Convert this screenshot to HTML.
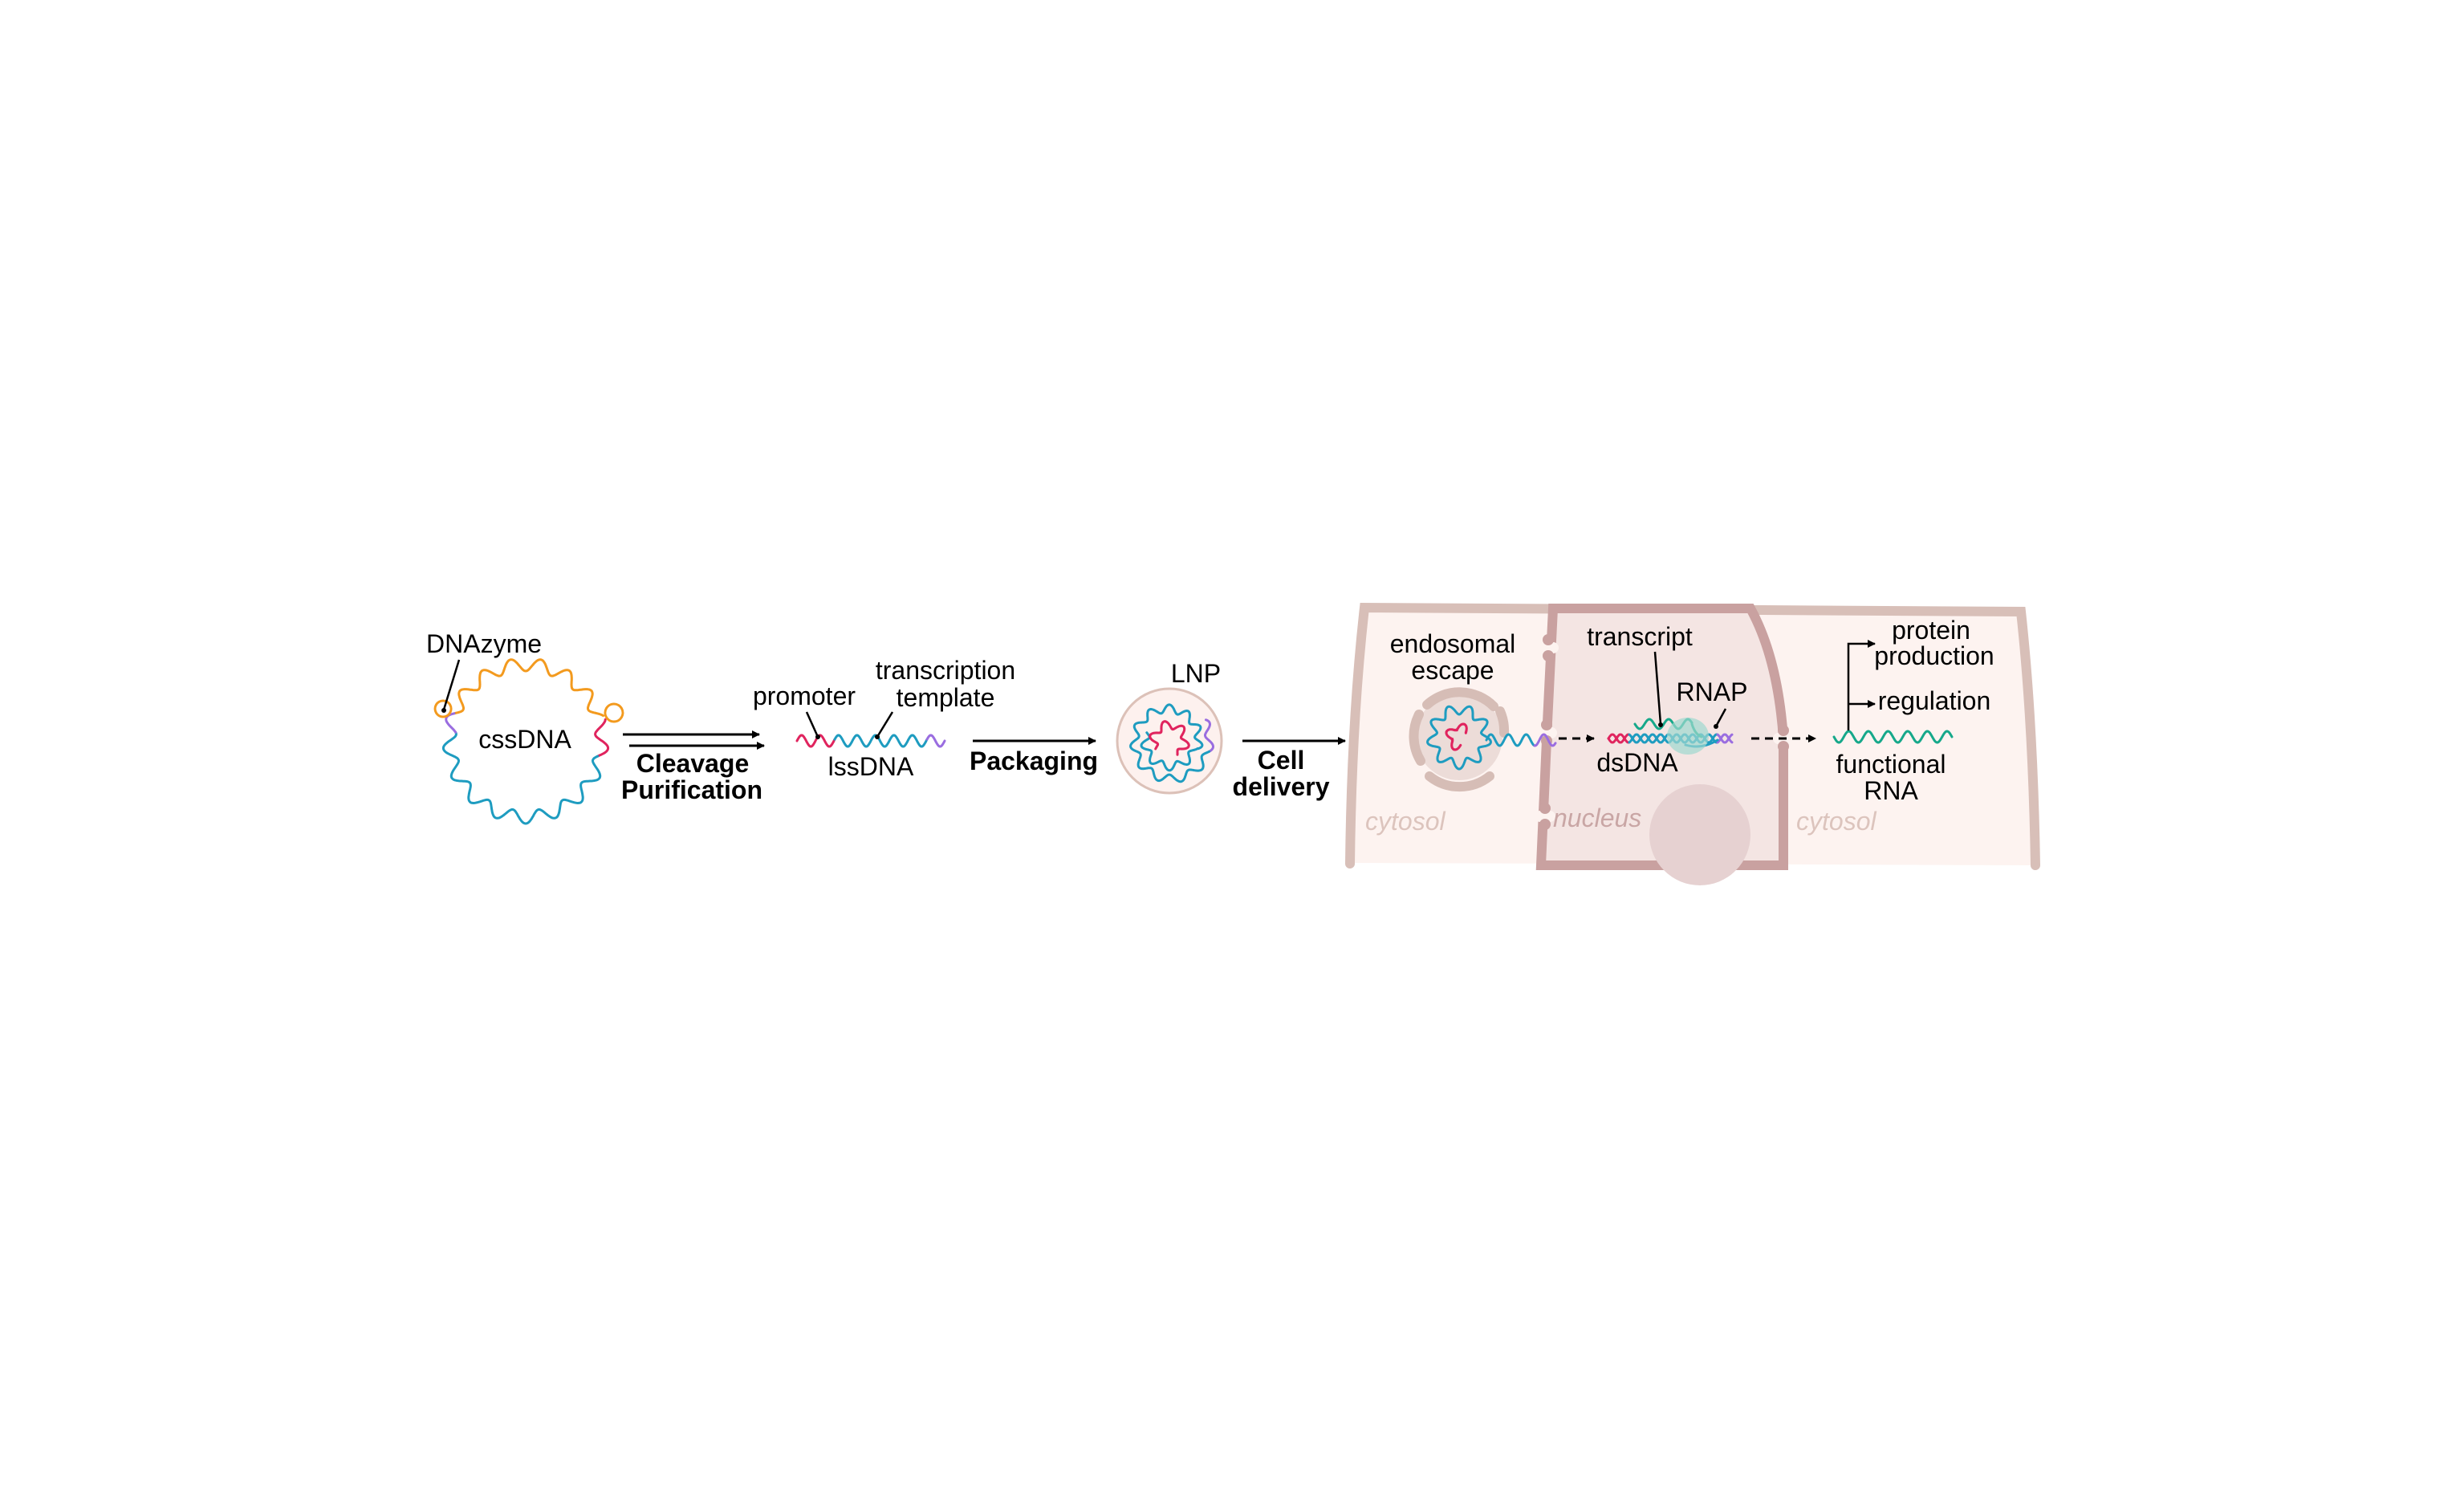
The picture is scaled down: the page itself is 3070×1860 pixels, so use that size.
<!DOCTYPE html>
<html><head><meta charset="utf-8">
<style>
html,body{margin:0;padding:0;background:#fff;}
svg{display:block;}
text{font-family:"Liberation Sans",Arial,sans-serif;font-size:32px;fill:#000;}
.b{font-weight:bold;}
.it{font-style:italic;}
</style></head>
<body>
<svg id="s" width="3070" height="1860" viewBox="0 0 3070 1860" xmlns="http://www.w3.org/2000/svg">
<defs>
<marker id="ah" markerWidth="10" markerHeight="10" refX="9" refY="5" orient="auto" markerUnits="userSpaceOnUse">
<path d="M0,0 L10,5 L0,10 Z" fill="#000"/></marker>
</defs>

<!-- Cell -->
<path d="M1700,757 L2518,762 Q2533,900 2536,1078 L1682,1075 Q1684,900 1700,757 Z" fill="#fdf3f0" stroke="none"/>
<path d="M1682,1076 Q1684,900 1700,757 L2518,762 Q2533,900 2536,1078" fill="none" stroke="#d8bfb8" stroke-width="12" stroke-linecap="round"/>
<!-- Nucleus -->
<path d="M1935,758 L2181,758 Q2215,820 2222,920 L2222,1078 L1920,1078 L1928,900 Z" fill="#f4e5e3" stroke="#c9a1a0" stroke-width="12"/>
<g fill="#fdf3f0">
<rect x="1916" y="800" width="26" height="14" rx="7"/>
<rect x="1914" y="906" width="26" height="14" rx="7"/>
<rect x="1912" y="1010" width="26" height="14" rx="7"/>
<rect x="2209" y="913" width="26" height="14" rx="7"/>
</g>
<g fill="#c9a1a0">
<circle cx="1929" cy="797" r="7"/><circle cx="1929" cy="817" r="7"/>
<circle cx="1927" cy="903" r="7"/><circle cx="1927" cy="923" r="7"/>
<circle cx="1925" cy="1007" r="7"/><circle cx="1925" cy="1027" r="7"/>
<circle cx="2222" cy="910" r="7"/><circle cx="2222" cy="930" r="7"/>
</g>
<ellipse cx="2118" cy="1040" rx="63" ry="63" fill="#e6d1d1"/>

<!-- endosome -->
<circle cx="1818" cy="918" r="54" fill="#ecdcd8"/>
<g fill="none" stroke="#d6bdb6" stroke-width="12" stroke-linecap="round">
<path d="M1778,878 A60,60 0 0 1 1861,880"/>
<path d="M1770,948 A60,60 0 0 1 1768,890"/>
<path d="M1781,967 A60,60 0 0 0 1856,967"/>
<path d="M1869,886 A60,60 0 0 1 1874,913"/>
</g>

<!-- LNP -->
<circle cx="1457" cy="923" r="65" fill="#fdf1ee" stroke="#dcc1b8" stroke-width="3"/>

<g id="waves" fill="none" stroke-width="3" stroke-linecap="round"></g>

<!-- Labels left -->
<text x="531" y="813">DNAzyme</text>
<line x1="572" y1="822" x2="553" y2="884" stroke="#000" stroke-width="2.5"/>
<circle cx="553" cy="885" r="3" fill="#000"/>
<text x="654" y="932" text-anchor="middle">cssDNA</text>

<line x1="776" y1="915" x2="946" y2="915" stroke="#000" stroke-width="3" marker-end="url(#ah)"/>
<line x1="784" y1="929" x2="952" y2="929" stroke="#000" stroke-width="3" marker-end="url(#ah)"/>
<text x="863" y="962" text-anchor="middle" class="b">Cleavage</text>
<text x="862" y="995" text-anchor="middle" class="b">Purification</text>

<text x="1002" y="878" text-anchor="middle">promoter</text>
<line x1="1005" y1="887" x2="1019" y2="918" stroke="#000" stroke-width="2.5"/>
<circle cx="1019" cy="918" r="3" fill="#000"/>
<text x="1178" y="846" text-anchor="middle">transcription</text>
<text x="1178" y="880" text-anchor="middle">template</text>
<line x1="1112" y1="887" x2="1093" y2="918" stroke="#000" stroke-width="2.5"/>
<circle cx="1093" cy="918" r="3" fill="#000"/>
<text x="1085" y="966" text-anchor="middle">lssDNA</text>

<line x1="1212" y1="923" x2="1365" y2="923" stroke="#000" stroke-width="3" marker-end="url(#ah)"/>
<text x="1288" y="959" text-anchor="middle" class="b">Packaging</text>
<text x="1490" y="850" text-anchor="middle">LNP</text>
<line x1="1548" y1="923" x2="1676" y2="923" stroke="#000" stroke-width="3" marker-end="url(#ah)"/>
<text x="1596" y="958" text-anchor="middle" class="b">Cell</text>
<text x="1596" y="991" text-anchor="middle" class="b">delivery</text>

<!-- Cell labels -->
<text x="1810" y="813" text-anchor="middle">endosomal</text>
<text x="1810" y="846" text-anchor="middle">escape</text>
<text x="1701" y="1034" class="it" style="fill:#dcc4bd">cytosol</text>
<text x="1935" y="1030" class="it" style="fill:#c9a6a5">nucleus</text>
<text x="2238" y="1034" class="it" style="fill:#dcc4bd">cytosol</text>

<line x1="1942" y1="920" x2="1986" y2="920" stroke="#000" stroke-width="3" stroke-dasharray="10,7" marker-end="url(#ah)"/>
<line x1="2182" y1="920" x2="2262" y2="920" stroke="#000" stroke-width="3" stroke-dasharray="10,7" marker-end="url(#ah)"/>

<ellipse cx="2103" cy="917" rx="26" ry="23" fill="#9ed9cf" opacity="0.7"/>

<text x="2043" y="804" text-anchor="middle">transcript</text>
<line x1="2062" y1="812" x2="2069" y2="902" stroke="#000" stroke-width="2.5"/>
<circle cx="2069" cy="903" r="3" fill="#000"/>
<text x="2133" y="873" text-anchor="middle">RNAP</text>
<line x1="2150" y1="883" x2="2138" y2="905" stroke="#000" stroke-width="2.5"/>
<circle cx="2138" cy="905" r="3" fill="#000"/>
<text x="2040" y="961" text-anchor="middle">dsDNA</text>

<text x="2356" y="963" text-anchor="middle">functional</text>
<text x="2356" y="996" text-anchor="middle">RNA</text>
<polyline points="2303,910 2303,802 2336,802" fill="none" stroke="#000" stroke-width="2.5" marker-end="url(#ah)"/>
<line x1="2303" y1="877" x2="2336" y2="877" stroke="#000" stroke-width="2.5" marker-end="url(#ah)"/>
<text x="2406" y="796" text-anchor="middle">protein</text>
<text x="2410" y="828" text-anchor="middle">production</text>
<text x="2410" y="884" text-anchor="middle">regulation</text>
</svg>
<script>
var g=document.getElementById('waves');
var NS='http://www.w3.org/2000/svg';
function add(d,c,w){var p=document.createElementNS(NS,'path');p.setAttribute('d',d);p.setAttribute('stroke',c);if(w)p.setAttribute('stroke-width',w);g.appendChild(p);}
function circ(cx,cy,r,amp,n,a0,a1,c,dr){var d='';var st=0.5;for(var a=a0;a<=a1+0.01;a+=st){var t=a*Math.PI/180;var rr=r+(dr?dr*(a-a0)/(a1-a0):0)+amp*Math.sin(n*t);d+=(d?'L':'M')+(cx+rr*Math.cos(t)).toFixed(1)+','+(cy+rr*Math.sin(t)).toFixed(1);}add(d,c);}
function line(x0,x1,y,amp,per,c,ph){var d='';for(var x=x0;x<=x1+0.01;x+=0.5){var yy=y-amp*Math.sin((x-x0)/per*2*Math.PI+(ph||0));d+=(d?'L':'M')+x.toFixed(1)+','+yy.toFixed(1);}add(d,c);}
var O='#f39a1e',B='#1e9cc0',R='#e0245e',P='#9a6de0',G='#16a88a';
// cssDNA
circ(655,923,95,8,17,201,342,O);
circ(655,923,95,8,17,345,372,R);
circ(655,923,95,8,17,12,187,B);
circ(655,923,95,8,17,187,201,P);
add('M552,873 a10,10 0 1 0 0.1,0',O);
add('M765,877 a11,11 0 1 1 -0.1,0',O);
// lssDNA
line(993,1040,923,7,23,R,0);
line(1040,1155,923,7,23,B,Math.PI*2*47/23);
line(1155,1177,923,7,23,P,Math.PI*2*162/23);
// LNP
circ(1457,923,50,5,11,-30,15,P);
circ(1457,923,50,5,11,15,375,B,-14);
circ(1457,923,33,5,9,15,200,B,-3);
circ(1457,923,20,5,6,150,420,R);
// endosome
circ(1818,918,34,6,9,0,360,B);
circ(1818,918,13,4,4,80,330,R);
line(1852,1912,922,7,22,B,0);
line(1912,1938,922,7,22,P,Math.PI*2*60/22);
// dsDNA
line(2004,2030,920,5,20,R,0);line(2004,2030,920,5,20,R,Math.PI);
line(2030,2140,920,5,20,B,Math.PI*2*26/20);line(2030,2140,920,5,20,B,Math.PI*2*26/20+Math.PI);
line(2140,2158,920,5,20,P,Math.PI*2*136/20);line(2140,2158,920,5,20,P,Math.PI*2*136/20+Math.PI);
// transcript
line(2037,2108,902,6,24,G,Math.PI);
add('M2108,902 Q2112,915 2120,918',G);
add('M2100,928 Q2120,934 2140,922',B);
// functional RNA
line(2285,2432,918,7,24.5,G,Math.PI);
</script>
</body></html>
